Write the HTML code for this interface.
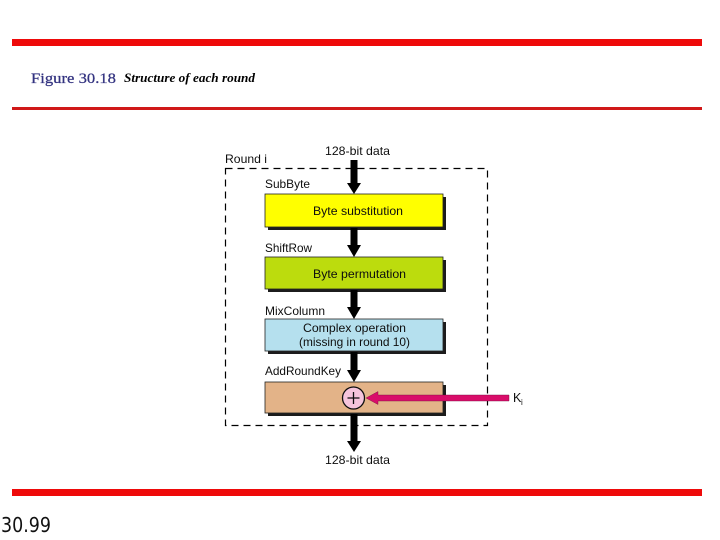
<!DOCTYPE html>
<html>
<head>
<meta charset="utf-8">
<style>
html,body{margin:0;padding:0;background:#fff;}
svg{display:block;}
</style>
</head>
<body>
<svg width="720" height="540" viewBox="0 0 720 540" xmlns="http://www.w3.org/2000/svg">
<defs><filter id="b" x="-5%" y="-5%" width="110%" height="110%"><feGaussianBlur stdDeviation="0.35"/></filter></defs>
<rect x="12" y="39" width="690" height="7" fill="#ee0a0a"/>
<rect x="12" y="107" width="690" height="3" fill="#d01818"/>
<rect x="12" y="489" width="690" height="7" fill="#ee0a0a"/>

<text x="31" y="83" font-family="Liberation Serif, serif" font-size="15" fill="#333380" stroke="#333380" stroke-width="0.25" textLength="85" lengthAdjust="spacingAndGlyphs">Figure 30.18</text>
<text x="124" y="82" font-family="Liberation Serif, serif" font-size="12.500" font-weight="bold" font-style="italic" fill="#000" textLength="131" lengthAdjust="spacingAndGlyphs">Structure of each round</text>
<text x="1" y="532" font-family="DejaVu Sans, sans-serif" font-size="20.500" fill="#111" textLength="50" lengthAdjust="spacingAndGlyphs">30.99</text>

<g filter="url(#b)">
<rect x="225.500" y="168.500" width="262" height="257" fill="none" stroke="#000" stroke-width="1.200" stroke-dasharray="7 5"/>

<g fill="#1c1c1c">
<rect x="268" y="197" width="178" height="33"/>
<rect x="268" y="260" width="178" height="32"/>
<rect x="268" y="322" width="178" height="32"/>
<rect x="268" y="385" width="178" height="31"/>
</g>
<rect x="265" y="194" width="178" height="33" fill="#ffff00" stroke="#222" stroke-width="0.8"/>
<rect x="265" y="257" width="178" height="32" fill="#bcdc0a" stroke="#222" stroke-width="0.8"/>
<rect x="265" y="319" width="178" height="32" fill="#b5e0ee" stroke="#222" stroke-width="0.8"/>
<rect x="265" y="382" width="178" height="31" fill="#e3b388" stroke="#222" stroke-width="0.8"/>

<g fill="#000">
<polygon points="350.500,160 357.500,160 357.500,183 361,183 354,194 347,183 350.500,183"/>
<polygon points="350.500,228 357.500,228 357.500,245 361,245 354,257 347,245 350.500,245"/>
<polygon points="350.500,290 357.500,290 357.500,307 361,307 354,319 347,307 350.500,307"/>
<polygon points="350.500,352 357.500,352 357.500,370 361,370 354,382 347,370 350.500,370"/>
<polygon points="350.500,414 357.500,414 357.500,441 361,441 354,452 347,441 350.500,441"/>
</g>

<circle cx="353.500" cy="398" r="11" fill="#f5c4dc" stroke="#111" stroke-width="1.300"/>
<path d="M347.500 398H359.500M353.500 392V404" stroke="#111" stroke-width="1.300" fill="none"/>
<polygon points="366,398 378,391.500 378,395 509,395 509,401 378,401 378,404.500" fill="#d90f6a" stroke="#70103a" stroke-width="0.4"/>
</g>

<g font-family="Liberation Sans, sans-serif" font-size="12" fill="#111" filter="url(#b)">
<text x="225" y="163" textLength="42" lengthAdjust="spacingAndGlyphs">Round i</text>
<text x="325" y="155" textLength="65" lengthAdjust="spacingAndGlyphs">128-bit data</text>
<text x="265" y="188" textLength="45" lengthAdjust="spacingAndGlyphs">SubByte</text>
<text x="265" y="252" textLength="47" lengthAdjust="spacingAndGlyphs">ShiftRow</text>
<text x="265" y="315" textLength="60" lengthAdjust="spacingAndGlyphs">MixColumn</text>
<text x="265" y="375" textLength="76" lengthAdjust="spacingAndGlyphs">AddRoundKey</text>
<text x="313" y="215" textLength="90" lengthAdjust="spacingAndGlyphs">Byte substitution</text>
<text x="313" y="278" textLength="93" lengthAdjust="spacingAndGlyphs">Byte permutation</text>
<text x="303" y="332" textLength="103" lengthAdjust="spacingAndGlyphs">Complex operation</text>
<text x="299" y="346" textLength="111" lengthAdjust="spacingAndGlyphs">(missing in round 10)</text>
<text x="325" y="464" textLength="65" lengthAdjust="spacingAndGlyphs">128-bit data</text>
<text x="513" y="402" font-size="12.500">K</text>
<text x="521" y="405" font-size="8">i</text>
</g>
</svg>
</body>
</html>
